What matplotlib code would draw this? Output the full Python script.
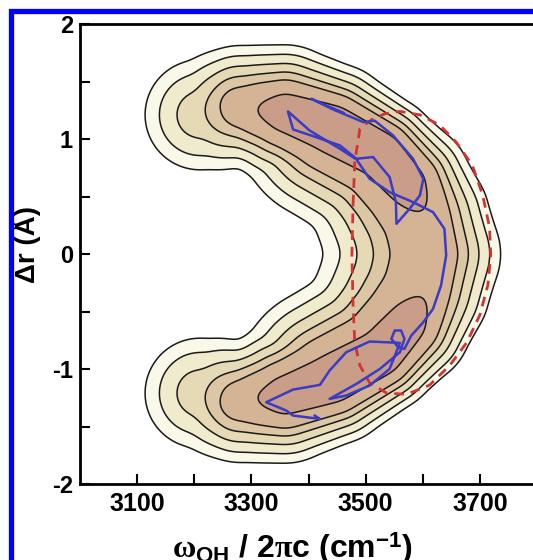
import numpy as np
import matplotlib
matplotlib.use("Agg")
import matplotlib.pyplot as plt
from matplotlib.patches import Rectangle
from matplotlib.ticker import FixedLocator

plt.rcParams['font.family'] = ['Liberation Sans', 'DejaVu Sans']
plt.rcParams['font.weight'] = 'bold'
plt.rcParams['axes.unicode_minus'] = False
plt.rcParams['mathtext.fontset'] = 'custom'
plt.rcParams['mathtext.rm'] = 'Liberation Sans:bold'
plt.rcParams['mathtext.bf'] = 'Liberation Sans:bold'
plt.rcParams['mathtext.it'] = 'Liberation Serif'

# ridge of the distribution (omega in cm-1, dr in A), peak height, widths
ridge_w = [3210, 3280, 3359, 3446, 3534, 3581, 3605, 3617,
           3605, 3581, 3534, 3446, 3359, 3280, 3210]
ridge_r = [1.21, 1.27, 1.235, 1.13, 0.913, 0.626, 0.32, 0.0,
           -0.32, -0.626, -0.913, -1.13, -1.235, -1.27, -1.21]
ridge_h = [0.4, 1.0, 1.55, 1.65, 1.6, 1.45, 1.15, 1.1,
           1.15, 1.45, 1.6, 1.65, 1.55, 1.0, 0.4]
ridge_sin = [28, 24, 28, 38, 40, 42, 44, 44,
             44, 42, 40, 38, 28, 24, 28]
ridge_sout = [28, 26, 26, 23, 20, 23, 26, 28,
              26, 23, 20, 23, 26, 26, 28]
levels = [0.06, 0.14, 0.28, 0.48, 0.72, 1.2]
fill_colors = ['#faf8e8', '#f1ebcd', '#e5dab5', '#dcc6a3', '#d5b395', '#c99d88']

# red dashed boundary
red_w = [3478, 3481, 3490, 3511, 3534, 3560, 3595, 3630, 3659, 3687, 3705, 3717,
         3719, 3714, 3700, 3677, 3647, 3612, 3572, 3537, 3507, 3490, 3481, 3478,
         3476, 3478]
red_r = [0.43, 0.80, 1.09, 1.17, 1.22, 1.24, 1.21, 1.12, 0.97, 0.77, 0.51, 0.23,
         -0.01, -0.27, -0.53, -0.77, -0.97, -1.14, -1.22, -1.21, -1.12, -0.97, -0.77, -0.44,
         -0.01, 0.43]

# blue trajectory
traj_w = [3461, 3431, 3405, 3443, 3496, 3516, 3548, 3583, 3601, 3595, 3577, 3554,
          3553, 3542, 3513, 3484, 3455, 3408, 3373, 3364, 3402, 3455, 3484, 3507,
          3542, 3583, 3618, 3638, 3641, 3632, 3618, 3601, 3580, 3568, 3557, 3545,
          3551, 3562, 3568, 3560, 3525, 3484, 3437, 3466, 3507, 3542, 3560, 3507,
          3466, 3437, 3420, 3373, 3326, 3361, 3373, 3420, 3411]
traj_r = [1.228, 1.292, 1.350, 1.257, 1.147, 1.159, 1.031, 0.828, 0.654, 0.509, 0.393, 0.263,
          0.451, 0.669, 0.843, 0.828, 0.944, 1.025, 1.083, 1.240, 1.074, 0.915, 0.822, 0.654,
          0.538, 0.451, 0.364, 0.219, -0.013, -0.274, -0.477, -0.593, -0.709, -0.825, -0.810, -0.738,
          -0.665, -0.665, -0.738, -0.854, -0.999, -1.129, -1.260, -1.231, -1.144, -0.999, -0.773, -0.761,
          -0.854, -1.013, -1.138, -1.179, -1.289, -1.361, -1.405, -1.434, -1.405]

# density field built from the ridge (distances measured in screen pixels)
sx, sy = 0.572, 115.0
gw = np.linspace(3000, 3800, 460)
gr = np.linspace(-2, 2, 460)
W, R = np.meshgrid(gw, gr)
PX, PY = (W - 3000) * sx, R * sy
ax_ = (np.array(ridge_w) - 3000) * sx
ay_ = np.array(ridge_r) * sy
Z = np.zeros_like(W)
for i in range(len(ax_) - 1):
    dx, dy = ax_[i + 1] - ax_[i], ay_[i + 1] - ay_[i]
    L2 = dx * dx + dy * dy
    t = np.clip(((PX - ax_[i]) * dx + (PY - ay_[i]) * dy) / L2, 0, 1)
    qx, qy = PX - (ax_[i] + t * dx), PY - (ay_[i] + t * dy)
    d2 = qx * qx + qy * qy
    cross = dx * (PY - ay_[i]) - dy * (PX - ax_[i])
    h = ridge_h[i] + t * (ridge_h[i + 1] - ridge_h[i])
    s_in = ridge_sin[i] + t * (ridge_sin[i + 1] - ridge_sin[i])
    s_out = ridge_sout[i] + t * (ridge_sout[i + 1] - ridge_sout[i])
    s = np.where(cross > 0, s_out, s_in)
    Z = np.maximum(Z, h * np.exp(-0.5 * d2 / s ** 2))

# soften the joints between ridge pieces
k = np.exp(-0.5 * (np.arange(-15, 16) / 5.0) ** 2)
k /= k.sum()
Z = np.apply_along_axis(lambda v: np.convolve(v, k, mode='same'), 0, Z)
Z = np.apply_along_axis(lambda v: np.convolve(v, k, mode='same'), 1, Z)

fig = plt.figure(figsize=(5.33, 5.60), dpi=100)
ax = fig.add_axes([80 / 533, 1 - 484 / 560, 457 / 533, 460 / 560])

ax.contourf(W, R, Z, levels=levels + [10], colors=fill_colors)
ax.contour(W, R, Z, levels=levels, colors='#1a1a1a', linewidths=1.1)
ax.plot(red_w, red_r, color='#d03535', lw=2.0, dashes=(3.5, 2.5))
ax.plot(traj_w, traj_r, color='#3b3bc4', lw=1.8)

ax.set_xlim(3000, 3800)
ax.set_ylim(-2, 2)
ax.xaxis.set_major_locator(FixedLocator([3100, 3300, 3500, 3700]))
ax.xaxis.set_minor_locator(FixedLocator([3200, 3400, 3600]))
ax.yaxis.set_major_locator(FixedLocator([-2, -1, 0, 1, 2]))
ax.yaxis.set_minor_locator(FixedLocator([-1.5, -0.5, 0.5, 1.5]))
ax.tick_params(which='both', direction='in', length=7, width=1.5,
               top=False, right=False)
ax.tick_params(axis='x', labelsize=18, pad=6)
ax.tick_params(axis='y', labelsize=17, pad=5)
for sp in ax.spines.values():
    sp.set_linewidth(2)

ax.set_xlabel(r'$\omega_{\mathrm{OH}}$ / 2$\pi$c (cm$^{\mathrm{-1}}$)',
              fontsize=23, fontweight='bold')
ax.xaxis.set_label_coords(0.464, -0.1)
ax.set_ylabel('Δr (Å)', fontsize=20, fontweight='bold')
ax.yaxis.set_label_coords(-0.085, 0.52)

fig.patches.append(Rectangle((10.5 / 533, -0.2), 2, 1.2 - 11 / 560,
                             transform=fig.transFigure, fill=False,
                             edgecolor='#0000ff', lw=3.8, clip_on=False))

fig.savefig('out.png', dpi=100)
